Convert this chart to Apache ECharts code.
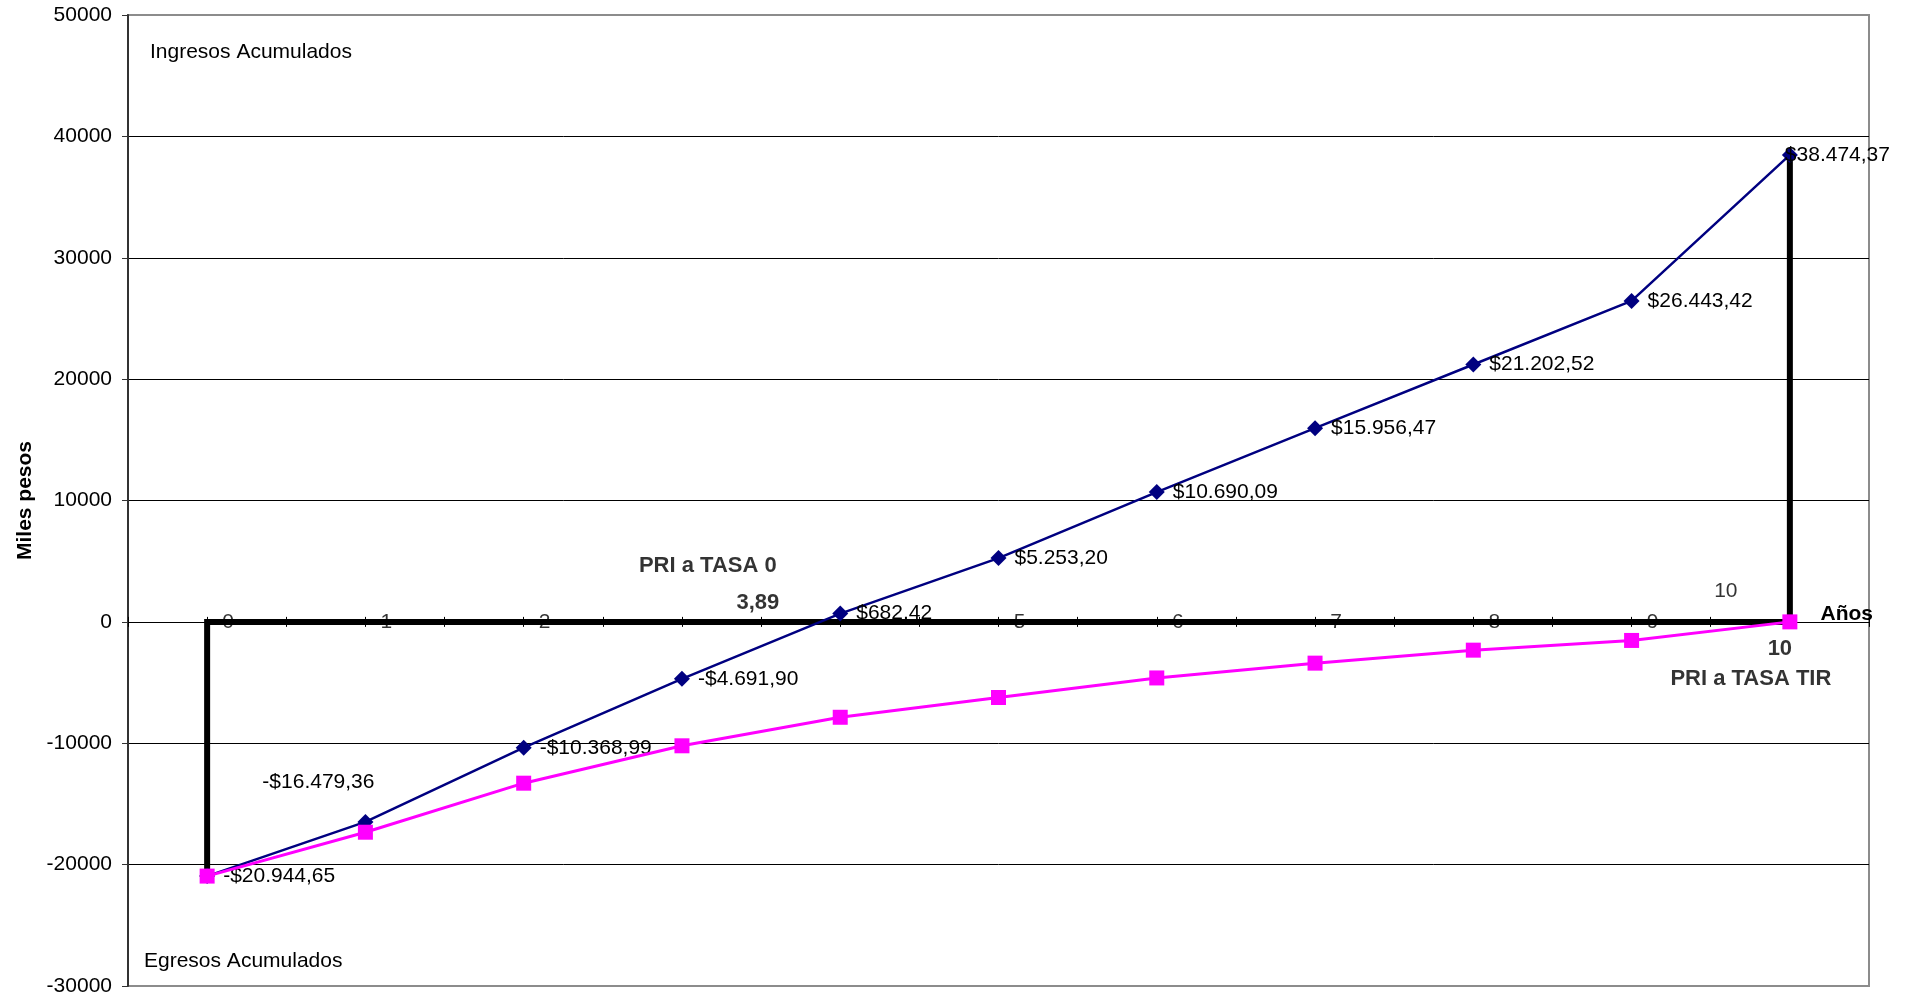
<!DOCTYPE html>
<html>
<head>
<meta charset="utf-8">
<script src="https://cdn.jsdelivr.net/npm/echarts@6/dist/echarts.min.js"></script>
<style>
  html, body { margin: 0; padding: 0; background: #ffffff; }
  #chart { width: 1916px; height: 998px; }
</style>
</head>
<body>
<div id="chart"></div>
<script>
// Años del proyecto y etiquetas del eje horizontal
const years = [0, 1, 2, 3, 4, 5, 6, 7, 8, 9, 10];
const xTickLabels = ['0', '1', '2', '', '', '5', '6', '7', '8', '9', '10'];

// Flujo neto acumulado (tasa 0) y flujo acumulado descontado a la TIR
const flujoAcumulado = [-20944.65, -16479.36, -10368.99, -4691.90, 682.42, 5253.20,
                        10690.09, 15956.47, 21202.52, 26443.42, 38474.37];
const flujoDescontadoTIR = [-20944.65, -17330, -13290, -10210, -7860, -6230,
                            -4620, -3400, -2330, -1530, 0];

// Periodos de recuperación de la inversión
const priTasa0 = 3.89;
const priTasaTIR = 10;
const priTasa0Texto = '3,89';
const priTasaTIRTexto = '10';

// Escala vertical (miles de pesos)
const yMin = -30000, yMax = 50000, yStep = 10000;

const FONT = '"Liberation Sans", Arial, sans-serif';

function pesos(v) {
  const parts = Math.abs(v).toFixed(2).split('.');
  const ent = parts[0].replace(/\B(?=(\d{3})+(?!\d))/g, '.');
  return (v < 0 ? '-' : '') + '$' + ent + ',' + parts[1];
}

const last = years.length - 1;

// Línea gruesa que marca la inversión inicial, el horizonte y el saldo final
const lineaPRI = [
  [years[0], flujoAcumulado[0]],
  [years[0], 0],
  [years[last], 0],
  [years[last], flujoAcumulado[last]]
];

const puntosFlujo = years.map((y, i) => {
  const item = { value: [y, flujoAcumulado[i]] };
  if (i === 1) {
    item.label = { position: 'inside', align: 'center', offset: [-47, -40] };
  } else if (i === last) {
    item.label = { position: 'inside', align: 'left', offset: [-5, 0] };
  }
  return item;
});

const puntosTIR = years.map((y, i) => [y, flujoDescontadoTIR[i]]);

const etiquetasEje = years.map((y, i) => {
  const item = { value: [y, 0], name: xTickLabels[i] };
  if (i === last) item.label = { offset: [-64, -31] };
  return item;
});

const boldText = { fontFamily: FONT, fontSize: 22, fontWeight: 'bold', color: '#000' };

const anotaciones = [
  { value: [priTasa0, 0], name: 'PRI a TASA 0', label: Object.assign({ offset: [-115, -56] }, boldText) },
  { value: [priTasa0, 0], name: priTasa0Texto, label: Object.assign({ offset: [-65, -19] }, boldText) },
  { value: [priTasaTIR, 0], name: priTasaTIRTexto, label: Object.assign({ offset: [-10, 27] }, boldText) },
  { value: [priTasaTIR, 0], name: 'PRI a TASA TIR', label: Object.assign({ offset: [-39, 57] }, boldText) }
];

const chart = echarts.init(document.getElementById('chart'), null, { renderer: 'canvas' });

const gridBox = { left: 128, right: 47, top: 15, bottom: 12 };

const xAxisBase = {
  type: 'value',
  min: -0.5,
  max: 10.5,
  interval: 0.5,
  position: 'bottom',
  axisLine: { show: true, onZero: true, lineStyle: { color: '#000', width: 1 } },
  axisTick: { show: true, length: 5, lineStyle: { color: '#000', width: 1 } },
  axisLabel: { show: false },
  splitLine: { show: false }
};

chart.setOption({
  animation: false,
  backgroundColor: '#ffffff',
  textStyle: { fontFamily: FONT },
  grid: [
    Object.assign({ show: true, borderColor: '#8c8c8c', borderWidth: 2, backgroundColor: 'transparent' }, gridBox),
    Object.assign({ show: false }, gridBox)
  ],
  xAxis: [
    Object.assign({}, xAxisBase, {
      gridIndex: 0,
      name: 'Años',
      nameLocation: 'end',
      nameGap: 4,
      nameTextStyle: {
        fontFamily: FONT, fontSize: 21, fontWeight: 'bold', color: '#000',
        align: 'right', verticalAlign: 'bottom', lineHeight: 16
      }
    }),
    // marcas hacia arriba sobre la misma línea del cero
    Object.assign({}, xAxisBase, {
      gridIndex: 1,
      axisTick: { show: true, inside: true, length: 5, lineStyle: { color: '#000', width: 1 } }
    })
  ],
  yAxis: [
    {
      gridIndex: 0,
      type: 'value',
      min: yMin,
      max: yMax,
      interval: yStep,
      name: 'Miles pesos',
      nameLocation: 'middle',
      nameGap: 92,
      nameRotate: 90,
      nameTextStyle: { fontFamily: FONT, fontSize: 21, fontWeight: 'bold', color: '#000' },
      axisLine: { show: true, onZero: false, lineStyle: { color: '#333', width: 2 } },
      axisTick: { show: true, length: 6, lineStyle: { color: '#333', width: 1 } },
      axisLabel: { fontFamily: FONT, fontSize: 21, color: '#000', margin: 16, formatter: v => String(v) },
      splitLine: { show: true, showMinLine: false, showMaxLine: false, lineStyle: { color: '#000', width: 1 } }
    },
    {
      gridIndex: 1,
      type: 'value',
      min: yMin,
      max: yMax,
      interval: yStep,
      show: false
    }
  ],
  graphic: [
    { type: 'text', x: 150, y: 52, silent: true,
      style: { text: 'Ingresos Acumulados', fontFamily: FONT, fontSize: 21, fill: '#000', verticalAlign: 'middle' } },
    { type: 'text', x: 144, y: 961, silent: true,
      style: { text: 'Egresos Acumulados', fontFamily: FONT, fontSize: 21, fill: '#000', verticalAlign: 'middle' } }
  ],
  series: [
    {
      type: 'line',
      data: lineaPRI,
      showSymbol: false,
      symbol: 'none',
      silent: true,
      z: 2,
      lineStyle: { color: '#000', width: 6, cap: 'butt', join: 'miter' }
    },
    {
      name: 'Flujo acumulado',
      type: 'line',
      data: puntosFlujo,
      symbol: 'diamond',
      symbolSize: 16,
      z: 3,
      itemStyle: { color: '#000080' },
      lineStyle: { color: '#000080', width: 2.5 },
      label: {
        show: true,
        position: 'right',
        distance: 8,
        fontFamily: FONT,
        fontSize: 21,
        color: '#000',
        formatter: p => pesos(p.value[1])
      }
    },
    {
      name: 'Flujo descontado TIR',
      type: 'line',
      data: puntosTIR,
      symbol: 'rect',
      symbolSize: 15,
      z: 4,
      itemStyle: { color: '#ff00ff' },
      lineStyle: { color: '#ff00ff', width: 3 }
    },
    {
      type: 'scatter',
      data: etiquetasEje,
      symbolSize: 0,
      silent: true,
      z: 5,
      label: {
        show: true,
        position: 'inside',
        offset: [21, 0],
        fontFamily: FONT,
        fontSize: 21,
        color: '#000',
        formatter: p => p.name
      }
    },
    {
      type: 'scatter',
      data: anotaciones,
      symbolSize: 0,
      silent: true,
      z: 6,
      label: {
        show: true,
        position: 'inside',
        formatter: p => p.name
      }
    }
  ]
});
</script>
</body>
</html>
